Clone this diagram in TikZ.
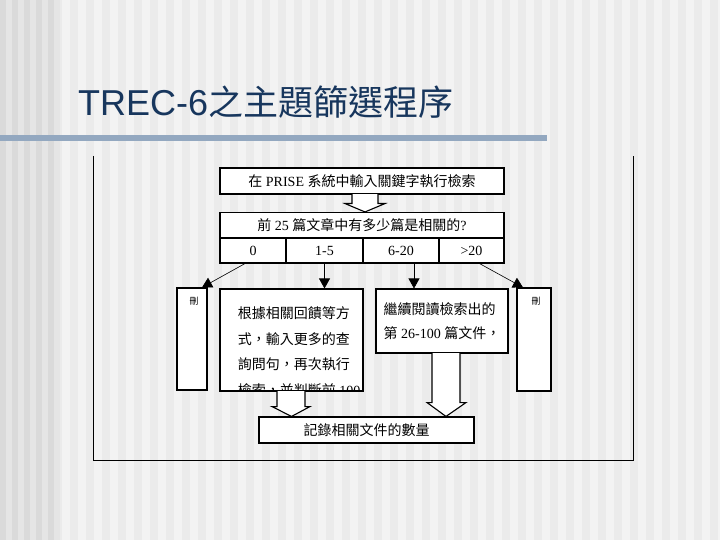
\documentclass[tikz,border=0pt]{standalone}
\usepackage{fontspec}
\setmainfont{Liberation Serif}
\newfontfamily\cjkfont{Noto Sans CJK TC}
\newfontfamily\titlefont{Liberation Sans}
\newcommand{\zh}[1]{{\cjkfont #1}}
\usepackage{tikz}
\usetikzlibrary{positioning, arrows.meta, calc}
\definecolor{paper}{HTML}{F3F3F3}
\definecolor{stripe}{HTML}{EBEBEB}
\definecolor{edge}{HTML}{DADADA}
\definecolor{edgelt}{HTML}{E5E5E5}
\definecolor{bar}{HTML}{93A8C0}
\definecolor{navy}{HTML}{17365D}

\begin{document}
\begin{tikzpicture}[
  x=1pt, y=-1pt,
  font=\fontsize{14}{16}\selectfont,
  box/.style={rectangle, draw=black, fill=white, line width=1.1pt, inner sep=0pt},
  cell/.style={box, minimum height=25pt},
  tip/.style={line width=0.6pt, -{Triangle[width=11pt,length=10pt]}},
  hollow/.style={draw=black, fill=white, line width=1.1pt, line join=miter}
]
  \useasboundingbox (0,0) rectangle (720,540);
  % background
  \fill[paper] (0,0) rectangle (720,540);
  \foreach \x in {54,70,...,710}
    \fill[stripe] (\x,0) rectangle (\x+8,540);
  \foreach \x in {0,12,...,48} {
    \fill[edge] (\x,0) rectangle (\x+6,540);
    \fill[edgelt] (\x+6,0) rectangle (\x+12,540);
  }
  \fill[bar] (0,135) rectangle (547,141);
  \node[anchor=base west, inner sep=0pt, color=navy] (title) at (78,116)
    {\titlefont\fontsize{36}{40}\selectfont TREC-6\cjkfont\fontsize{35}{38}\selectfont 之主題篩選程序};
  % frame
  \draw[line width=0.8pt] (93,156) -- (93,460) -- (633,460) -- (633,156);
  % top boxes
  \node[box, minimum width=284pt, minimum height=26pt] (query) at (362,181)
    {\zh{在} PRISE \zh{系統中輸入關鍵字執行檢索}};
  \node[box, minimum width=284pt, minimum height=25pt] (count) at (362,225)
    {\zh{前} 25 \zh{篇文章中有多少篇是相關的}?};
  \node[cell, minimum width=66pt] (c0) at (253,250.5) {0};
  \node[cell, minimum width=77pt] (c1) at (324.5,250.5) {1-5};
  \node[cell, minimum width=76pt] (c2) at (401,250.5) {6-20};
  \node[cell, minimum width=65pt] (c3) at (471.5,250.5) {\textgreater 20};
  % lower boxes
  \node[box, minimum width=30pt, minimum height=102pt] (dropl) at (192,339) {};
  \node[font=\cjkfont\fontsize{9}{10}\selectfont, inner sep=0pt] (dropltxt) at (194,301) {刪};
  \node[box, minimum width=34pt, minimum height=103pt] (dropr) at (534,339.5) {};
  \node[font=\cjkfont\fontsize{9}{10}\selectfont, inner sep=0pt] (droprtxt) at (536,301) {刪};
  \node[box, minimum width=143pt, minimum height=102pt,
    path picture={\node[anchor=north west, inner sep=0pt, align=left,
      font=\fontsize{14}{25.5}\selectfont]
      at ([xshift=7pt, yshift=-11pt]path picture bounding box.north west)
      {\zh{根據相關回饋等方}\\ \zh{式，輸入更多的查}\\ \zh{詢問句，再次執行}\\ \zh{檢索，並判斷前} 100};}
  ] (feedback) at (291.5,340) {};
  \node[box, minimum width=132pt, minimum height=64pt, align=left,
    font=\fontsize{14}{24.5}\selectfont] (reading) at (442,321)
    {\zh{繼續閱讀檢索出的}\\ \zh{第} 26-100 \zh{篇文件，}};
  \node[box, minimum width=215pt, minimum height=26pt] (record) at (366.5,430)
    {\zh{記錄相關文件的數量}};
  % connectors
  \draw[hollow] ($(query.south)+(-10,-0.5)$) -- ($(query.south)+(-10,9)$)
    -- ($(query.south)+(-17,9)$) -- ($(count.north)+(3,0)$)
    -- ($(query.south)+(23,9)$) -- ($(query.south)+(16,9)$)
    -- ($(query.south)+(16,-0.5)$);
  \draw[tip] ([xshift=-8pt]c0.south) -- ([xshift=10pt]dropl.north);
  \draw[tip] (c1.south) -- (c1.south |- feedback.north);
  \draw[tip] ([xshift=13pt]c2.south) -- ([xshift=13pt]c2.south |- reading.north);
  \draw[tip] ([xshift=8pt]c3.south) -- ([xshift=-11pt]dropr.north);
  \draw[hollow] ($(feedback.south)+(-14.5,-0.5)$) -- ($(feedback.south)+(-14.5,15)$)
    -- ($(feedback.south)+(-19.5,15)$) -- (feedback.south |- record.north)
    -- ($(feedback.south)+(18.5,15)$) -- ($(feedback.south)+(13.5,15)$)
    -- ($(feedback.south)+(13.5,-0.5)$);
  \draw[hollow] ($(reading.south)+(-10,-0.5)$) -- ($(reading.south)+(-10,49)$)
    -- ($(reading.south)+(-15,49)$) -- ($(reading.south |- record.north)+(4,0)$)
    -- ($(reading.south)+(24,49)$) -- ($(reading.south)+(18,49)$)
    -- ($(reading.south)+(18,-0.5)$);
\end{tikzpicture}
\end{document}
